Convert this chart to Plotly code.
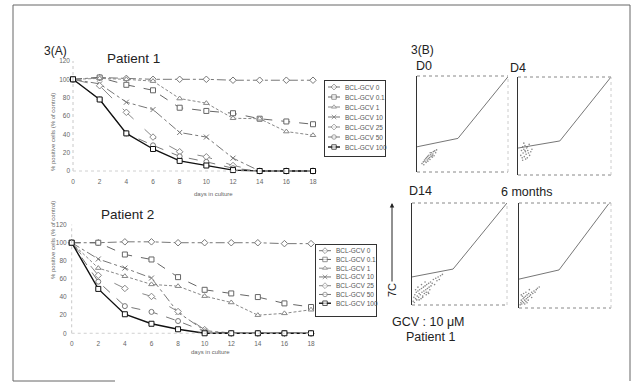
import plotly.graph_objects as go

W, H = 636, 384
def fx(p): return p / W
def fy(p): return 1 - p / H

# ---------------- data ----------------
days = [0, 2, 4, 6, 8, 10, 12, 14, 16, 18]
dose_labels = ["BCL-GCV 0", "BCL-GCV 0.1", "BCL-GCV 1", "BCL-GCV 10",
               "BCL-GCV 25", "BCL-GCV 50", "BCL-GCV 100"]
y_ticks = [0, 20, 40, 60, 80, 100, 120]

# Patient 1 (% positive cells, % of control)
p1_gcv0 = [100, 102, 101, 100, 100, 100, 99, 99, 99, 99]
p1_gcv01 = [100, 102, 94, 88, 69, 65.5, 63, 57, 54, 51]
p1_gcv1 = [100, 101, 100, 98, 79, 74, 57.5, 57, 43, 39]
p1_gcv10 = [100, 95, 75, 67, 42, 37, 14, 0, 0, 0]
p1_gcv25 = [100, 93, 64, 37, 21, 15.5, 6, 0, 0, 0]
p1_gcv50 = [100, 78, 41, 28, 16, 10, 3, 0, 0, 0]
p1_gcv100 = [100, 78, 41, 24, 11, 6, 1, 0, 0, 0]

# Patient 2
p2_gcv0 = [100, 100, 101, 101, 100, 100, 100, 100, 99, 99]
p2_gcv01 = [100, 100, 87, 81.5, 62, 48, 44, 40, 33, 29]
p2_gcv1 = [100, 72, 63, 54, 52, 41, 34, 20, 22, 26]
p2_gcv10 = [100, 82, 72, 61, 23, 3, 0, 0, 0, 0]
p2_gcv25 = [100, 64, 49.5, 40.7, 24, 4, 0, 0, 0, 0]
p2_gcv50 = [100, 57, 30, 23.6, 13.5, 2, 0, 0, 0, 0]
p2_gcv100 = [100, 49, 21, 10.5, 4.4, 0, 0, 0, 0, 0]

# Flow cytometry gates (log decades)
gate_d0_x = [0, 1.8, 4]
gate_d0_y = [1.05, 1.4, 3.97]
gate_d4_x = [0, 1.8, 4]
gate_d4_y = [1.1, 1.39, 4]
gate_d14_x = [0, 1.73, 4]
gate_d14_y = [1.1, 1.41, 4]
gate_6m_x = [0, 1.74, 3.9]
gate_6m_y = [1.1, 1.45, 3.97]

# Flow cytometry events (log decades)
d0_x = [0.22, 0.28, 0.30, 0.35, 0.38, 0.40, 0.42, 0.45, 0.47, 0.50, 0.52, 0.55, 0.57, 0.60,
        0.62, 0.64, 0.67, 0.70, 0.72, 0.75, 0.78, 0.82, 0.86, 0.33, 0.48, 0.58, 0.68]
d0_y = [0.35, 0.42, 0.30, 0.45, 0.55, 0.40, 0.60, 0.50, 0.65, 0.55, 0.70, 0.60, 0.52, 0.72,
        0.64, 0.80, 0.70, 0.75, 0.85, 0.68, 0.88, 0.80, 0.92, 0.50, 0.45, 0.80, 0.62]
d4_x = [0.12, 0.15, 0.18, 0.2, 0.22, 0.25, 0.27, 0.3, 0.32, 0.35, 0.37, 0.4, 0.42, 0.45,
        0.48, 0.5, 0.55, 0.6, 0.25, 0.33, 0.4, 0.2, 0.3]
d4_y = [0.8, 1.0, 0.7, 1.15, 0.9, 1.05, 0.75, 1.2, 0.95, 0.85, 1.1, 0.7, 1.0, 0.9,
        1.25, 0.8, 0.95, 1.05, 1.3, 0.65, 1.15, 0.6, 1.0]
d14_x = [0.05, 0.08, 0.1, 0.12, 0.15, 0.18, 0.2, 0.22, 0.25, 0.28, 0.3, 0.32, 0.35, 0.38,
         0.4, 0.42, 0.45, 0.48, 0.5, 0.52, 0.55, 0.58, 0.6, 0.62, 0.65, 0.68, 0.7, 0.72,
         0.75, 0.78, 0.8, 0.85, 0.9, 0.95, 1.0, 1.05, 1.1, 1.15, 1.2, 1.28, 0.3, 0.45,
         0.6, 0.25, 0.4, 0.55, 0.7, 0.15]
d14_y = [0.15, 0.3, 0.1, 0.4, 0.25, 0.5, 0.2, 0.35, 0.55, 0.3, 0.45, 0.6, 0.4, 0.25,
         0.65, 0.5, 0.35, 0.7, 0.55, 0.45, 0.75, 0.6, 0.4, 0.8, 0.65, 0.5, 0.85, 0.7,
         0.6, 0.9, 0.75, 0.85, 1.0, 0.8, 1.05, 0.95, 1.1, 1.0, 1.15, 1.2, 0.2, 0.3,
         0.5, 0.7, 0.8, 0.9, 0.45, 0.6]
d6m_x = [0.05, 0.08, 0.1, 0.12, 0.15, 0.18, 0.2, 0.22, 0.25, 0.28, 0.3, 0.32, 0.35, 0.38,
         0.4, 0.42, 0.45, 0.5, 0.55, 0.6, 0.65, 0.7, 0.75, 0.8, 0.88, 0.15, 0.25, 0.35,
         0.2, 0.3, 0.1, 0.45, 0.55]
d6m_y = [0.12, 0.2, 0.3, 0.15, 0.25, 0.35, 0.2, 0.4, 0.3, 0.45, 0.25, 0.35, 0.5, 0.4,
         0.3, 0.55, 0.45, 0.5, 0.6, 0.55, 0.65, 0.6, 0.7, 0.75, 0.8, 0.45, 0.15, 0.2,
         0.55, 0.6, 0.5, 0.7, 0.4]

# ---------------- styles ----------------
styles = [
    dict(color="#777", dash="dashdot", width=1, symbol="diamond"),
    dict(color="#666", dash="dash", width=1, symbol="square"),
    dict(color="#888", dash="3px,2px", width=1, symbol="triangle-up"),
    dict(color="#777", dash="dashdot", width=1, symbol="x-thin"),
    dict(color="#888", dash="longdash", width=1, symbol="diamond"),
    dict(color="#777", dash="dash", width=1, symbol="circle"),
    dict(color="#111", dash="solid", width=1.4, symbol="square"),
]

FONT = "Liberation Sans, Arial, sans-serif"
fig = go.Figure()

def marker_for(st, size):
    if st["symbol"] == "x-thin":
        return dict(symbol="x-thin", size=size, line=dict(color=st["color"], width=1))
    return dict(symbol=st["symbol"], size=size, color="white",
                line=dict(color=st["color"], width=1))

def add_series(series, xa, ya):
    for vals, st in zip(series, styles):
        fig.add_trace(go.Scatter(
            x=days, y=vals, xaxis=xa, yaxis=ya, mode="lines+markers",
            line=dict(color=st["color"], dash=st["dash"], width=st["width"]),
            marker=marker_for(st, 5), showlegend=False, cliponaxis=False,
            hoverinfo="skip"))

add_series([p1_gcv0, p1_gcv01, p1_gcv1, p1_gcv10, p1_gcv25, p1_gcv50, p1_gcv100], "x", "y")
add_series([p2_gcv0, p2_gcv01, p2_gcv1, p2_gcv10, p2_gcv25, p2_gcv50, p2_gcv100], "x2", "y2")

# legend boxes (manual, compact)
def add_legend(xa, ya):
    for i, st in enumerate(styles):
        fig.add_trace(go.Scatter(
            x=[3, 9, 15], y=[i, i, i], xaxis=xa, yaxis=ya, mode="lines+markers",
            line=dict(color=st["color"], dash="solid", width=st["width"]),
            marker=marker_for(st, [0, 4.5, 0]), showlegend=False, hoverinfo="skip"))
        fig.add_annotation(x=18, y=i, xref=xa, yref=ya, text=dose_labels[i],
                           showarrow=False, xanchor="left",
                           font=dict(size=6.5, color="#555", family=FONT))

add_legend("x7", "y7")
add_legend("x8", "y8")

# flow panels
flows = [
    (gate_d0_x, gate_d0_y, d0_x, d0_y, "x3", "y3"),
    (gate_d4_x, gate_d4_y, d4_x, d4_y, "x4", "y4"),
    (gate_d14_x, gate_d14_y, d14_x, d14_y, "x5", "y5"),
    (gate_6m_x, gate_6m_y, d6m_x, d6m_y, "x6", "y6"),
]
for gx, gy, cx, cy, xa, ya in flows:
    fig.add_trace(go.Scatter(x=cx, y=cy, xaxis=xa, yaxis=ya, mode="markers",
                             marker=dict(size=1.6, color="#888"), showlegend=False,
                             hoverinfo="skip"))
    fig.add_trace(go.Scatter(x=gx, y=gy, xaxis=xa, yaxis=ya, mode="lines",
                             line=dict(color="#666", width=0.9), showlegend=False,
                             hoverinfo="skip"))

# ---------------- layout ----------------
def curve_axes(xdom, ydom, xr, yr):
    xa = dict(domain=xdom, range=xr, tickvals=days, ticks="", showgrid=False,
              zeroline=False, showline=False,
              tickfont=dict(size=6.5, color="#666", family=FONT))
    ya = dict(domain=ydom, range=yr, tickvals=y_ticks, ticks="", showgrid=False,
              zeroline=False, showline=False,
              tickfont=dict(size=6.5, color="#666", family=FONT))
    return xa, ya

x1, y1 = curve_axes([fx(71), fx(321)], [fy(176.5), fy(57.3)], [-0.15, 18.6], [-6, 124])
x2, y2 = curve_axes([fx(67.7), fx(319)], [fy(338.7), fy(221)], [-0.3, 18.6], [-6, 124])
x1["anchor"] = "y"; y1["anchor"] = "x"
x2["anchor"] = "y2"; y2["anchor"] = "x2"

def flow_axes(xdom, ydom, n):
    xa = dict(domain=xdom, range=[0, 4], showticklabels=False, ticks="", showgrid=False,
              zeroline=False, showline=False, anchor="y%d" % n)
    ya = dict(domain=ydom, range=[0, 4], showticklabels=False, ticks="", showgrid=False,
              zeroline=False, showline=True, linecolor="#333", linewidth=1.4,
              anchor="x%d" % n)
    return xa, ya

x3, y3 = flow_axes([fx(417), fx(508)], [fy(172), fy(76)], 3)
x4, y4 = flow_axes([fx(518), fx(611)], [fy(175), fy(77)], 4)
x5, y5 = flow_axes([fx(412), fx(507)], [fy(305), fy(203)], 5)
x6, y6 = flow_axes([fx(519), fx(611)], [fy(308), fy(203)], 6)

def legend_axes(xdom, ydom, yr, n):
    xa = dict(domain=xdom, range=[0, 60], visible=True, showticklabels=False, ticks="",
              showgrid=False, zeroline=False, showline=True, mirror=True,
              linecolor="#333", linewidth=1, anchor="y%d" % n)
    ya = dict(domain=ydom, range=yr, showticklabels=False, ticks="", showgrid=False,
              zeroline=False, showline=True, mirror=True, linecolor="#333",
              linewidth=1, anchor="x%d" % n)
    return xa, ya

x7, y7 = legend_axes([fx(325), fx(385)], [fy(156), fy(81)], [6.9, -0.6], 7)
x8, y8 = legend_axes([fx(316), fx(376)], [fy(316), fy(245)], [7.46, -0.65], 8)

shapes = []
# faint dotted axes of the curve plots
for xa, ya in [("x", "y"), ("x2", "y2")]:
    shapes.append(dict(type="line", xref=xa, yref=ya, x0=0, x1=0, y0=0, y1=120,
                       line=dict(color="#c8c8c8", width=1, dash="dot")))
    shapes.append(dict(type="line", xref=xa, yref=ya, x0=0, x1=18, y0=0, y1=0,
                       line=dict(color="#d0d0d0", width=1, dash="dot")))
# flow panel frames (dotted top/bottom/right)
for n in (3, 4, 5, 6):
    xr, yr = "x%d domain" % n, "y%d domain" % n
    shapes.append(dict(type="line", xref=xr, yref=yr, x0=0, x1=1, y0=1, y1=1,
                       line=dict(color="#888", width=1, dash="dot")))
    shapes.append(dict(type="line", xref=xr, yref=yr, x0=0, x1=1, y0=0, y1=0,
                       line=dict(color="#888", width=1, dash="dot")))
    shapes.append(dict(type="line", xref=xr, yref=yr, x0=1, x1=1, y0=0, y1=1,
                       line=dict(color="#ccc", width=1, dash="dot")))
# outer figure frame
shapes += [
    dict(type="line", xref="paper", yref="paper", x0=fx(13), x1=fx(630), y0=fy(5), y1=fy(5),
         line=dict(color="#666", width=1)),
    dict(type="line", xref="paper", yref="paper", x0=fx(13), x1=fx(13), y0=fy(5), y1=fy(381),
         line=dict(color="#666", width=1)),
    dict(type="line", xref="paper", yref="paper", x0=fx(630), x1=fx(630), y0=fy(5), y1=fy(381),
         line=dict(color="#666", width=1)),
    dict(type="line", xref="paper", yref="paper", x0=fx(13), x1=fx(115), y0=fy(381), y1=fy(381),
         line=dict(color="#666", width=1)),
]

def txt(x, y, s, size, **kw):
    d = dict(x=fx(x), y=fy(y), xref="paper", yref="paper", text=s, showarrow=False,
             font=dict(size=size, color="#222", family=FONT), borderpad=0)
    d.update(kw)
    return d

small = dict(size=6, color="#666", family=FONT)
annotations = list(fig.layout.annotations) + [
    txt(43, 43, "3(A)", 12),
    txt(106, 50, "Patient 1", 13.5),
    txt(100, 214, "Patient 2", 13.5),
    txt(435, 42, "3(B)", 12),
    txt(424, 58, "D0", 12.5),
    txt(527, 60, "D4", 12.5),
    txt(433, 191, "D14", 12.5),
    txt(553, 192, "6 months", 12.5),
    txt(466, 330, "GCV : 10 μM", 12.5),
    txt(456, 345, "Patient 1", 12.5),
    txt(193, 194, "days in culture", 6, font=small),
    txt(190, 356, "days in culture", 6, font=small),
    txt(49, 132, "% positive cells (% of control)", 6, textangle=-90, font=small),
    txt(49, 280, "% positive cells (% of control)", 6, textangle=-90, font=small),
    txt(392, 298, "7C", 11, textangle=-90),
    dict(x=fx(392), y=fy(203), xref="paper", yref="paper", text="", showarrow=True,
         ax=0, ay=80, axref="pixel", ayref="pixel", arrowhead=2, arrowsize=0.9,
         arrowwidth=1, arrowcolor="#222"),
]

fig.update_layout(
    width=W, height=H, margin=dict(l=0, r=0, t=0, b=0),
    paper_bgcolor="white", plot_bgcolor="white", showlegend=False,
    xaxis=x1, yaxis=y1, xaxis2=x2, yaxis2=y2,
    xaxis3=x3, yaxis3=y3, xaxis4=x4, yaxis4=y4,
    xaxis5=x5, yaxis5=y5, xaxis6=x6, yaxis6=y6,
    xaxis7=x7, yaxis7=y7, xaxis8=x8, yaxis8=y8,
    shapes=shapes, annotations=annotations,
)

fig.write_html("out.html")
